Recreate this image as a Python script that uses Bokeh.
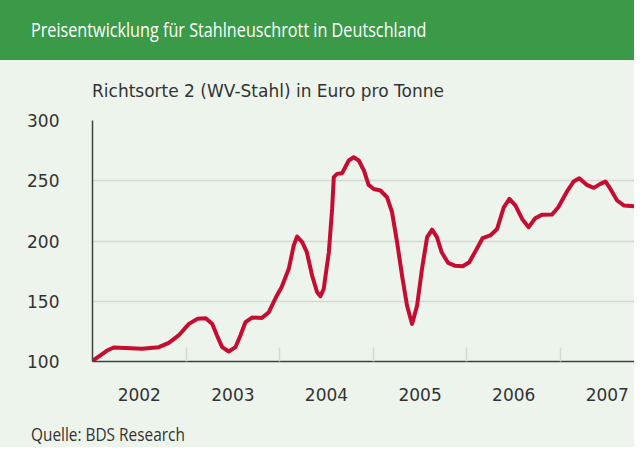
from bokeh.plotting import figure
from bokeh.models import FixedTicker, Range1d, Div
from bokeh.layouts import column
from bokeh.embed import file_html
from bokeh.resources import INLINE

# ---- data ----
title_text = "Preisentwicklung für Stahlneuschrott in Deutschland"
subtitle_text = "Richtsorte 2 (WV-Stahl) in Euro pro Tonne"
source_text = "Quelle: BDS Research"

years = [2002, 2003, 2004, 2005, 2006, 2007]
y_ticks = [100, 150, 200, 250, 300]

# time in fractional years, price in Euro per tonne
t = [2002.000, 2002.084, 2002.156, 2002.227, 2002.350, 2002.530, 2002.708, 2002.815,
     2002.920, 2003.030, 2003.120, 2003.210, 2003.280, 2003.330, 2003.385, 2003.456,
     2003.527, 2003.580, 2003.634, 2003.705, 2003.810, 2003.884, 2003.970, 2004.020,
     2004.097, 2004.150, 2004.186, 2004.240, 2004.290, 2004.346, 2004.400, 2004.435,
     2004.470, 2004.525, 2004.560, 2004.578, 2004.613, 2004.667, 2004.700, 2004.738,
     2004.790, 2004.845, 2004.900, 2004.950, 2005.005, 2005.076, 2005.147, 2005.200,
     2005.254, 2005.307, 2005.360, 2005.414, 2005.468, 2005.520, 2005.575, 2005.628,
     2005.680, 2005.730, 2005.800, 2005.870, 2005.955, 2006.025, 2006.096, 2006.167,
     2006.250, 2006.323, 2006.394, 2006.454, 2006.518, 2006.590, 2006.660, 2006.730,
     2006.800, 2006.910, 2006.976, 2007.065, 2007.140, 2007.200, 2007.280, 2007.356,
     2007.426, 2007.480, 2007.533, 2007.605, 2007.676, 2007.787]
price = [100.5, 105.0, 109.1, 111.6, 111.3, 110.5, 111.9, 115.5,
         121.6, 131.2, 135.4, 135.9, 131.2, 121.6, 111.9, 108.3,
         111.9, 121.6, 132.6, 136.5, 136.2, 140.9, 154.8, 161.7,
         176.9, 196.3, 203.7, 199.0, 190.7, 171.4, 157.5, 154.2,
         160.2, 190.7, 226.6, 253.0, 255.7, 256.3, 261.2, 266.8,
         269.5, 266.8, 258.5, 246.6, 243.2, 241.9, 236.3, 223.9,
         199.0, 171.4, 146.5, 131.2, 146.5, 176.8, 203.2, 209.5,
         203.2, 190.7, 181.8, 179.5, 179.1, 182.4, 192.1, 202.3,
         204.6, 210.0, 228.0, 234.9, 229.5, 218.3, 211.5, 218.9,
         221.7, 222.0, 228.0, 240.5, 249.4, 252.1, 246.6, 244.1,
         247.4, 249.4, 243.2, 233.6, 229.5, 228.9]

# ---- style ----
BG = "#EDF4EC"
GREEN = "#3A9A48"
RED = "#C60C30"
TXT = "#333333"
GRID = "#D3D8D3"
AXIS = "#404040"
FONT = "DejaVu Sans"
SANS = "Open Sans"

W = 634


def narrow(text):
    return ('<span style="display:inline-block; transform:scaleX(0.81); '
            'transform-origin:0 50%; white-space:nowrap">' + text + '</span>')


header = Div(text=narrow(title_text), width=W, height=60, margin=0,
             styles={"background-color": GREEN, "color": "white",
                     "font-family": SANS, "font-size": "20px",
                     "line-height": "60px", "padding-left": "31px",
                     "box-sizing": "border-box", "overflow": "hidden"})

subtitle = Div(text=subtitle_text, width=W, height=48, margin=0,
               styles={"background-color": BG, "color": TXT,
                       "font-family": FONT, "font-size": "17px",
                       "line-height": "20px", "padding-left": "92px",
                       "padding-top": "21px", "box-sizing": "border-box",
                       "white-space": "nowrap"})

p = figure(width=W, height=307, output_backend="svg", toolbar_location=None,
           x_range=Range1d(2002, 2002 + 542 / 93.6), y_range=Range1d(100, 300),
           min_border_left=92, min_border_right=0, min_border_top=12, min_border_bottom=54,
           margin=0)
p.background_fill_color = BG
p.border_fill_color = BG
p.outline_line_color = None

footer = Div(text=narrow(source_text), width=W, height=32, margin=0,
             styles={"background-color": BG, "color": TXT,
                     "font-family": SANS, "font-size": "19px",
                     "line-height": "26px", "padding-left": "31px",
                     "padding-top": "6px", "box-sizing": "border-box"})

# y axis
p.yaxis.ticker = FixedTicker(ticks=y_ticks)
p.yaxis.major_tick_line_color = None
p.yaxis.minor_tick_line_color = None
p.yaxis.axis_line_color = AXIS
p.yaxis.axis_line_width = 1.5
p.yaxis.major_label_standoff = 27
p.yaxis.major_label_text_font = FONT
p.yaxis.major_label_text_font_size = "17px"
p.yaxis.major_label_text_color = TXT

# x axis: labels centred in each year, separators at year boundaries
p.xaxis.ticker = FixedTicker(ticks=[y + 0.5 for y in years], minor_ticks=years[1:])
p.xaxis.major_label_overrides = {y + 0.5: str(y) for y in years}
p.xaxis.major_tick_line_color = None
p.xaxis.minor_tick_in = 14
p.xaxis.minor_tick_out = 0
p.xaxis.minor_tick_line_color = GRID
p.xaxis.minor_tick_line_width = 1.5
p.xaxis.axis_line_color = AXIS
p.xaxis.axis_line_width = 1.5
p.xaxis.major_label_standoff = 20
p.xaxis.major_label_text_font = FONT
p.xaxis.major_label_text_font_size = "17px"
p.xaxis.major_label_text_color = TXT

p.xgrid.grid_line_color = None
p.ygrid.ticker = FixedTicker(ticks=y_ticks)
p.ygrid.grid_line_color = GRID
p.ygrid.grid_line_width = 1.5

p.line(t, price, line_width=4, line_color=RED, line_join="round", line_cap="round")

layout = column(header, subtitle, p, footer, spacing=0, margin=0,
                styles={"background-color": BG})
open("out.html", "w").write(file_html(layout, INLINE))
